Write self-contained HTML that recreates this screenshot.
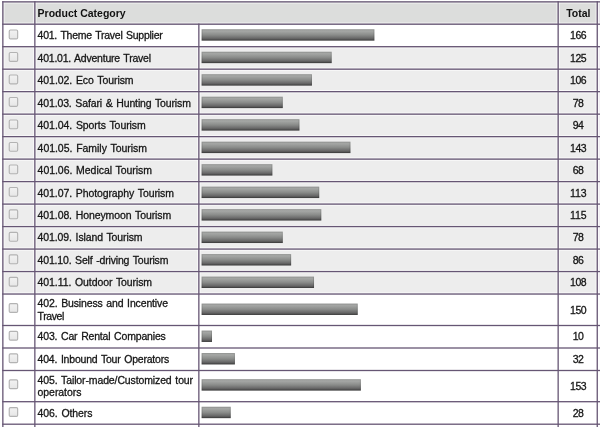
<!DOCTYPE html><html><head><meta charset="utf-8"><title>Product Category</title><style>html,body{margin:0;padding:0;background:#fff;width:600px;height:427px;overflow:hidden;position:relative}</style></head><body><svg width="600" height="427" viewBox="0 0 600 427" style="position:absolute;left:0;top:0"><defs><linearGradient id="bg" x1="0" y1="0" x2="0" y2="1"><stop offset="0" stop-color="#a8aaa8"/><stop offset="0.2" stop-color="#a2a4a2"/><stop offset="0.5" stop-color="#8a8c8a"/><stop offset="0.78" stop-color="#6a6a6a"/><stop offset="0.95" stop-color="#4c4c4c"/><stop offset="1" stop-color="#4a4a4a"/></linearGradient><linearGradient id="cbg" x1="0" y1="0" x2="0" y2="1"><stop offset="0" stop-color="#f2f2f2"/><stop offset="1" stop-color="#e6e6e6"/></linearGradient></defs><rect x="0" y="0" width="600" height="427" fill="#fff"/><rect x="2.85" y="1.85" width="594.4" height="22.349999999999998" fill="#dcdddc"/><rect x="597.25" y="1.85" width="2.75" height="22.349999999999998" fill="#e6e2e8"/><rect x="2.85" y="46.69" width="594.4" height="22.49" fill="#ededed"/><rect x="597.25" y="46.69" width="2.75" height="22.49" fill="#f4f0f5"/><rect x="2.85" y="69.17" width="594.4" height="22.49" fill="#ededed"/><rect x="597.25" y="69.17" width="2.75" height="22.49" fill="#f4f0f5"/><rect x="2.85" y="91.66" width="594.4" height="22.49" fill="#ededed"/><rect x="597.25" y="91.66" width="2.75" height="22.49" fill="#f4f0f5"/><rect x="2.85" y="114.15" width="594.4" height="22.49" fill="#ededed"/><rect x="597.25" y="114.15" width="2.75" height="22.49" fill="#f4f0f5"/><rect x="2.85" y="136.63" width="594.4" height="22.49" fill="#ededed"/><rect x="597.25" y="136.63" width="2.75" height="22.49" fill="#f4f0f5"/><rect x="2.85" y="159.12" width="594.4" height="22.49" fill="#ededed"/><rect x="597.25" y="159.12" width="2.75" height="22.49" fill="#f4f0f5"/><rect x="2.85" y="181.61" width="594.4" height="22.49" fill="#ededed"/><rect x="597.25" y="181.61" width="2.75" height="22.49" fill="#f4f0f5"/><rect x="2.85" y="204.10" width="594.4" height="22.49" fill="#ededed"/><rect x="597.25" y="204.10" width="2.75" height="22.49" fill="#f4f0f5"/><rect x="2.85" y="226.58" width="594.4" height="22.49" fill="#ededed"/><rect x="597.25" y="226.58" width="2.75" height="22.49" fill="#f4f0f5"/><rect x="2.85" y="249.07" width="594.4" height="22.49" fill="#ededed"/><rect x="597.25" y="249.07" width="2.75" height="22.49" fill="#f4f0f5"/><rect x="2.85" y="271.56" width="594.4" height="22.49" fill="#ededed"/><rect x="597.25" y="271.56" width="2.75" height="22.49" fill="#f4f0f5"/><rect x="201.6" y="29.24" width="172.81" height="11.4" fill="url(#bg)"/><rect x="202.1" y="29.74" width="171.81" height="10.4" fill="none" stroke="#000" stroke-opacity="0.12" stroke-width="1"/><rect x="9.25" y="30.04" width="8.40" height="8.80" rx="1.2" fill="url(#cbg)" stroke="#b3b3b3" stroke-width="1.15"/><rect x="201.6" y="51.73" width="130.12" height="11.4" fill="url(#bg)"/><rect x="202.1" y="52.23" width="129.12" height="10.4" fill="none" stroke="#000" stroke-opacity="0.12" stroke-width="1"/><rect x="9.25" y="52.53" width="8.40" height="8.80" rx="1.2" fill="url(#cbg)" stroke="#b3b3b3" stroke-width="1.15"/><rect x="201.6" y="74.22" width="110.35" height="11.4" fill="url(#bg)"/><rect x="202.1" y="74.72" width="109.35" height="10.4" fill="none" stroke="#000" stroke-opacity="0.12" stroke-width="1"/><rect x="9.25" y="75.02" width="8.40" height="8.80" rx="1.2" fill="url(#cbg)" stroke="#b3b3b3" stroke-width="1.15"/><rect x="201.6" y="96.70" width="81.20" height="11.4" fill="url(#bg)"/><rect x="202.1" y="97.20" width="80.20" height="10.4" fill="none" stroke="#000" stroke-opacity="0.12" stroke-width="1"/><rect x="9.25" y="97.50" width="8.40" height="8.80" rx="1.2" fill="url(#cbg)" stroke="#b3b3b3" stroke-width="1.15"/><rect x="201.6" y="119.19" width="97.85" height="11.4" fill="url(#bg)"/><rect x="202.1" y="119.69" width="96.85" height="10.4" fill="none" stroke="#000" stroke-opacity="0.12" stroke-width="1"/><rect x="9.25" y="119.99" width="8.40" height="8.80" rx="1.2" fill="url(#cbg)" stroke="#b3b3b3" stroke-width="1.15"/><rect x="201.6" y="141.68" width="148.86" height="11.4" fill="url(#bg)"/><rect x="202.1" y="142.18" width="147.86" height="10.4" fill="none" stroke="#000" stroke-opacity="0.12" stroke-width="1"/><rect x="9.25" y="142.48" width="8.40" height="8.80" rx="1.2" fill="url(#cbg)" stroke="#b3b3b3" stroke-width="1.15"/><rect x="201.6" y="164.17" width="70.79" height="11.4" fill="url(#bg)"/><rect x="202.1" y="164.67" width="69.79" height="10.4" fill="none" stroke="#000" stroke-opacity="0.12" stroke-width="1"/><rect x="9.25" y="164.97" width="8.40" height="8.80" rx="1.2" fill="url(#cbg)" stroke="#b3b3b3" stroke-width="1.15"/><rect x="201.6" y="186.65" width="117.63" height="11.4" fill="url(#bg)"/><rect x="202.1" y="187.15" width="116.63" height="10.4" fill="none" stroke="#000" stroke-opacity="0.12" stroke-width="1"/><rect x="9.25" y="187.45" width="8.40" height="8.80" rx="1.2" fill="url(#cbg)" stroke="#b3b3b3" stroke-width="1.15"/><rect x="201.6" y="209.14" width="119.71" height="11.4" fill="url(#bg)"/><rect x="202.1" y="209.64" width="118.71" height="10.4" fill="none" stroke="#000" stroke-opacity="0.12" stroke-width="1"/><rect x="9.25" y="209.94" width="8.40" height="8.80" rx="1.2" fill="url(#cbg)" stroke="#b3b3b3" stroke-width="1.15"/><rect x="201.6" y="231.63" width="81.20" height="11.4" fill="url(#bg)"/><rect x="202.1" y="232.13" width="80.20" height="10.4" fill="none" stroke="#000" stroke-opacity="0.12" stroke-width="1"/><rect x="9.25" y="232.43" width="8.40" height="8.80" rx="1.2" fill="url(#cbg)" stroke="#b3b3b3" stroke-width="1.15"/><rect x="201.6" y="254.11" width="89.53" height="11.4" fill="url(#bg)"/><rect x="202.1" y="254.61" width="88.53" height="10.4" fill="none" stroke="#000" stroke-opacity="0.12" stroke-width="1"/><rect x="9.25" y="254.91" width="8.40" height="8.80" rx="1.2" fill="url(#cbg)" stroke="#b3b3b3" stroke-width="1.15"/><rect x="201.6" y="276.60" width="112.43" height="11.4" fill="url(#bg)"/><rect x="202.1" y="277.10" width="111.43" height="10.4" fill="none" stroke="#000" stroke-opacity="0.12" stroke-width="1"/><rect x="9.25" y="277.40" width="8.40" height="8.80" rx="1.2" fill="url(#cbg)" stroke="#b3b3b3" stroke-width="1.15"/><rect x="201.6" y="303.57" width="156.15" height="11.4" fill="url(#bg)"/><rect x="202.1" y="304.07" width="155.15" height="10.4" fill="none" stroke="#000" stroke-opacity="0.12" stroke-width="1"/><rect x="9.25" y="303.57" width="8.40" height="8.80" rx="1.2" fill="url(#cbg)" stroke="#b3b3b3" stroke-width="1.15"/><rect x="201.6" y="330.55" width="10.41" height="11.4" fill="url(#bg)"/><rect x="202.1" y="331.05" width="9.41" height="10.4" fill="none" stroke="#000" stroke-opacity="0.12" stroke-width="1"/><rect x="9.25" y="331.35" width="8.40" height="8.80" rx="1.2" fill="url(#cbg)" stroke="#b3b3b3" stroke-width="1.15"/><rect x="201.6" y="353.05" width="33.31" height="11.4" fill="url(#bg)"/><rect x="202.1" y="353.55" width="32.31" height="10.4" fill="none" stroke="#000" stroke-opacity="0.12" stroke-width="1"/><rect x="9.25" y="353.85" width="8.40" height="8.80" rx="1.2" fill="url(#cbg)" stroke="#b3b3b3" stroke-width="1.15"/><rect x="201.6" y="379.20" width="159.27" height="11.4" fill="url(#bg)"/><rect x="202.1" y="379.70" width="158.27" height="10.4" fill="none" stroke="#000" stroke-opacity="0.12" stroke-width="1"/><rect x="9.25" y="379.90" width="8.40" height="8.80" rx="1.2" fill="url(#cbg)" stroke="#b3b3b3" stroke-width="1.15"/><rect x="201.6" y="406.75" width="29.15" height="11.4" fill="url(#bg)"/><rect x="202.1" y="407.25" width="28.15" height="10.4" fill="none" stroke="#000" stroke-opacity="0.12" stroke-width="1"/><rect x="9.25" y="407.55" width="8.40" height="8.80" rx="1.2" fill="url(#cbg)" stroke="#b3b3b3" stroke-width="1.15"/><rect x="9.25" y="430.05" width="8.40" height="8.80" rx="1.2" fill="url(#cbg)" stroke="#b3b3b3" stroke-width="1.15"/><rect x="0" y="0.20" width="600" height="1" fill="#fff" fill-opacity="0.7"/><rect x="0" y="2.50" width="600" height="1" fill="#fff" fill-opacity="0.7"/><rect x="0" y="22.55" width="600" height="1" fill="#fff" fill-opacity="0.7"/><rect x="0" y="24.85" width="600" height="1" fill="#fff" fill-opacity="0.7"/><rect x="0" y="45.04" width="600" height="1" fill="#fff" fill-opacity="0.7"/><rect x="0" y="47.34" width="600" height="1" fill="#fff" fill-opacity="0.7"/><rect x="0" y="67.52" width="600" height="1" fill="#fff" fill-opacity="0.7"/><rect x="0" y="69.82" width="600" height="1" fill="#fff" fill-opacity="0.7"/><rect x="0" y="90.01" width="600" height="1" fill="#fff" fill-opacity="0.7"/><rect x="0" y="92.31" width="600" height="1" fill="#fff" fill-opacity="0.7"/><rect x="0" y="112.50" width="600" height="1" fill="#fff" fill-opacity="0.7"/><rect x="0" y="114.80" width="600" height="1" fill="#fff" fill-opacity="0.7"/><rect x="0" y="134.98" width="600" height="1" fill="#fff" fill-opacity="0.7"/><rect x="0" y="137.28" width="600" height="1" fill="#fff" fill-opacity="0.7"/><rect x="0" y="157.47" width="600" height="1" fill="#fff" fill-opacity="0.7"/><rect x="0" y="159.77" width="600" height="1" fill="#fff" fill-opacity="0.7"/><rect x="0" y="179.96" width="600" height="1" fill="#fff" fill-opacity="0.7"/><rect x="0" y="182.26" width="600" height="1" fill="#fff" fill-opacity="0.7"/><rect x="0" y="202.45" width="600" height="1" fill="#fff" fill-opacity="0.7"/><rect x="0" y="204.75" width="600" height="1" fill="#fff" fill-opacity="0.7"/><rect x="0" y="224.93" width="600" height="1" fill="#fff" fill-opacity="0.7"/><rect x="0" y="227.23" width="600" height="1" fill="#fff" fill-opacity="0.7"/><rect x="0" y="247.42" width="600" height="1" fill="#fff" fill-opacity="0.7"/><rect x="0" y="249.72" width="600" height="1" fill="#fff" fill-opacity="0.7"/><rect x="0" y="269.91" width="600" height="1" fill="#fff" fill-opacity="0.7"/><rect x="0" y="272.21" width="600" height="1" fill="#fff" fill-opacity="0.7"/><rect x="0" y="292.39" width="600" height="1" fill="#fff" fill-opacity="0.7"/><rect x="0" y="294.69" width="600" height="1" fill="#fff" fill-opacity="0.7"/><rect x="0" y="323.85" width="600" height="1" fill="#fff" fill-opacity="0.7"/><rect x="0" y="326.15" width="600" height="1" fill="#fff" fill-opacity="0.7"/><rect x="0" y="346.35" width="600" height="1" fill="#fff" fill-opacity="0.7"/><rect x="0" y="348.65" width="600" height="1" fill="#fff" fill-opacity="0.7"/><rect x="0" y="368.85" width="600" height="1" fill="#fff" fill-opacity="0.7"/><rect x="0" y="371.15" width="600" height="1" fill="#fff" fill-opacity="0.7"/><rect x="0" y="400.05" width="600" height="1" fill="#fff" fill-opacity="0.7"/><rect x="0" y="402.35" width="600" height="1" fill="#fff" fill-opacity="0.7"/><rect x="0" y="422.55" width="600" height="1" fill="#fff" fill-opacity="0.7"/><rect x="0" y="424.85" width="600" height="1" fill="#fff" fill-opacity="0.7"/><rect x="1.20" y="1.85" width="1" height="427" fill="#fff" fill-opacity="0.7"/><rect x="3.50" y="1.85" width="1" height="427" fill="#fff" fill-opacity="0.7"/><rect x="33.20" y="1.85" width="1" height="427" fill="#fff" fill-opacity="0.7"/><rect x="35.50" y="1.85" width="1" height="427" fill="#fff" fill-opacity="0.7"/><rect x="197.20" y="24.2" width="1" height="427" fill="#fff" fill-opacity="0.7"/><rect x="199.50" y="24.2" width="1" height="427" fill="#fff" fill-opacity="0.7"/><rect x="556.50" y="1.85" width="1" height="427" fill="#fff" fill-opacity="0.7"/><rect x="558.80" y="1.85" width="1" height="427" fill="#fff" fill-opacity="0.7"/><rect x="595.60" y="1.85" width="1" height="427" fill="#fff" fill-opacity="0.7"/><rect x="597.90" y="1.85" width="1" height="427" fill="#fff" fill-opacity="0.7"/><rect x="2.20" y="1.20" width="600" height="1.3" fill="#665674"/><rect x="2.20" y="23.55" width="600" height="1.3" fill="#665674"/><rect x="2.20" y="46.04" width="600" height="1.3" fill="#665674"/><rect x="2.20" y="68.52" width="600" height="1.3" fill="#665674"/><rect x="2.20" y="91.01" width="600" height="1.3" fill="#665674"/><rect x="2.20" y="113.50" width="600" height="1.3" fill="#665674"/><rect x="2.20" y="135.98" width="600" height="1.3" fill="#665674"/><rect x="2.20" y="158.47" width="600" height="1.3" fill="#665674"/><rect x="2.20" y="180.96" width="600" height="1.3" fill="#665674"/><rect x="2.20" y="203.45" width="600" height="1.3" fill="#665674"/><rect x="2.20" y="225.93" width="600" height="1.3" fill="#665674"/><rect x="2.20" y="248.42" width="600" height="1.3" fill="#665674"/><rect x="2.20" y="270.91" width="600" height="1.3" fill="#665674"/><rect x="2.20" y="293.39" width="600" height="1.3" fill="#665674"/><rect x="2.20" y="324.85" width="600" height="1.3" fill="#665674"/><rect x="2.20" y="347.35" width="600" height="1.3" fill="#665674"/><rect x="2.20" y="369.85" width="600" height="1.3" fill="#665674"/><rect x="2.20" y="401.05" width="600" height="1.3" fill="#665674"/><rect x="2.20" y="423.55" width="600" height="1.3" fill="#665674"/><rect x="2.20" y="1.20" width="1.3" height="427" fill="#665674"/><rect x="34.20" y="1.20" width="1.3" height="427" fill="#665674"/><rect x="198.20" y="23.55" width="1.3" height="427" fill="#665674"/><rect x="557.50" y="1.20" width="1.3" height="427" fill="#665674"/><rect x="596.60" y="1.20" width="1.3" height="427" fill="#665674"/></svg><svg width="600" height="427" viewBox="0 0 600 427" style="position:absolute;left:0;top:0;will-change:transform"><g font-family="Liberation Sans, Arial, sans-serif" font-size="11.0" stroke="#141414" stroke-width="0.3" word-spacing="1.0"><text x="37.6" y="16.50" font-weight="bold" font-size="10.5" fill="#111" stroke-width="0" word-spacing="0">Product Category</text><text x="578.3" y="16.50" font-weight="bold" font-size="10.5" fill="#111" stroke-width="0" word-spacing="0" text-anchor="middle">Total</text><text transform="translate(37.6 39.10) scale(0.955 1)" fill="#141414" textLength="131.06" lengthAdjust="spacing">401. Theme Travel Supplier</text><text transform="translate(578.3 39.10) scale(0.955 1)" fill="#141414" text-anchor="middle" textLength="17.17" lengthAdjust="spacing">166</text><text transform="translate(37.6 61.59) scale(0.955 1)" fill="#141414" textLength="118.75" lengthAdjust="spacing">401.01. Adventure Travel</text><text transform="translate(578.3 61.59) scale(0.955 1)" fill="#141414" text-anchor="middle" textLength="17.17" lengthAdjust="spacing">125</text><text transform="translate(37.6 84.07) scale(0.955 1)" fill="#141414" textLength="100.53" lengthAdjust="spacing">401.02. Eco Tourism</text><text transform="translate(578.3 84.07) scale(0.955 1)" fill="#141414" text-anchor="middle" textLength="17.17" lengthAdjust="spacing">106</text><text transform="translate(37.6 106.56) scale(0.955 1)" fill="#141414" textLength="160.54" lengthAdjust="spacing">401.03. Safari &amp; Hunting Tourism</text><text transform="translate(578.3 106.56) scale(0.955 1)" fill="#141414" text-anchor="middle" textLength="11.41" lengthAdjust="spacing">78</text><text transform="translate(37.6 129.05) scale(0.955 1)" fill="#141414" textLength="113.27" lengthAdjust="spacing">401.04. Sports Tourism</text><text transform="translate(578.3 129.05) scale(0.955 1)" fill="#141414" text-anchor="middle" textLength="11.41" lengthAdjust="spacing">94</text><text transform="translate(37.6 151.53) scale(0.955 1)" fill="#141414" textLength="114.56" lengthAdjust="spacing">401.05. Family Tourism</text><text transform="translate(578.3 151.53) scale(0.955 1)" fill="#141414" text-anchor="middle" textLength="17.17" lengthAdjust="spacing">143</text><text transform="translate(37.6 174.02) scale(0.955 1)" fill="#141414" textLength="119.87" lengthAdjust="spacing">401.06. Medical Tourism</text><text transform="translate(578.3 174.02) scale(0.955 1)" fill="#141414" text-anchor="middle" textLength="11.41" lengthAdjust="spacing">68</text><text transform="translate(37.6 196.51) scale(0.955 1)" fill="#141414" textLength="142.84" lengthAdjust="spacing">401.07. Photography Tourism</text><text transform="translate(578.3 196.51) scale(0.955 1)" fill="#141414" text-anchor="middle" textLength="17.17" lengthAdjust="spacing">113</text><text transform="translate(37.6 219.00) scale(0.955 1)" fill="#141414" textLength="139.87" lengthAdjust="spacing">401.08. Honeymoon Tourism</text><text transform="translate(578.3 219.00) scale(0.955 1)" fill="#141414" text-anchor="middle" textLength="17.17" lengthAdjust="spacing">115</text><text transform="translate(37.6 241.48) scale(0.955 1)" fill="#141414" textLength="109.92" lengthAdjust="spacing">401.09. Island Tourism</text><text transform="translate(578.3 241.48) scale(0.955 1)" fill="#141414" text-anchor="middle" textLength="11.41" lengthAdjust="spacing">78</text><text transform="translate(37.6 263.97) scale(0.955 1)" fill="#141414" textLength="137.03" lengthAdjust="spacing">401.10. Self -driving Tourism</text><text transform="translate(578.3 263.97) scale(0.955 1)" fill="#141414" text-anchor="middle" textLength="11.41" lengthAdjust="spacing">86</text><text transform="translate(37.6 286.46) scale(0.955 1)" fill="#141414" textLength="119.89" lengthAdjust="spacing">401.11. Outdoor Tourism</text><text transform="translate(578.3 286.46) scale(0.955 1)" fill="#141414" text-anchor="middle" textLength="17.17" lengthAdjust="spacing">108</text><text transform="translate(37.6 307.14) scale(0.955 1)" fill="#141414" textLength="136.53" lengthAdjust="spacing">402. Business and Incentive</text><text transform="translate(37.6 319.74) scale(0.955 1)" fill="#141414" textLength="28.04" lengthAdjust="spacing">Travel</text><text transform="translate(578.3 313.77) scale(0.955 1)" fill="#141414" text-anchor="middle" textLength="17.17" lengthAdjust="spacing">150</text><text transform="translate(37.6 340.40) scale(0.955 1)" fill="#141414" textLength="134.28" lengthAdjust="spacing">403. Car Rental Companies</text><text transform="translate(578.3 340.40) scale(0.955 1)" fill="#141414" text-anchor="middle" textLength="11.41" lengthAdjust="spacing">10</text><text transform="translate(37.6 362.90) scale(0.955 1)" fill="#141414" textLength="137.89" lengthAdjust="spacing">404. Inbound Tour Operators</text><text transform="translate(578.3 362.90) scale(0.955 1)" fill="#141414" text-anchor="middle" textLength="11.41" lengthAdjust="spacing">32</text><text transform="translate(37.6 383.60) scale(0.955 1)" fill="#141414" textLength="162.80" lengthAdjust="spacing">405. Tailor-made/Customized tour</text><text transform="translate(37.6 396.20) scale(0.955 1)" fill="#141414" textLength="45.86" lengthAdjust="spacing">operators</text><text transform="translate(578.3 390.10) scale(0.955 1)" fill="#141414" text-anchor="middle" textLength="17.17" lengthAdjust="spacing">153</text><text transform="translate(37.6 416.60) scale(0.955 1)" fill="#141414" textLength="57.46" lengthAdjust="spacing">406. Others</text><text transform="translate(578.3 416.60) scale(0.955 1)" fill="#141414" text-anchor="middle" textLength="11.41" lengthAdjust="spacing">28</text></g></svg></body></html>
